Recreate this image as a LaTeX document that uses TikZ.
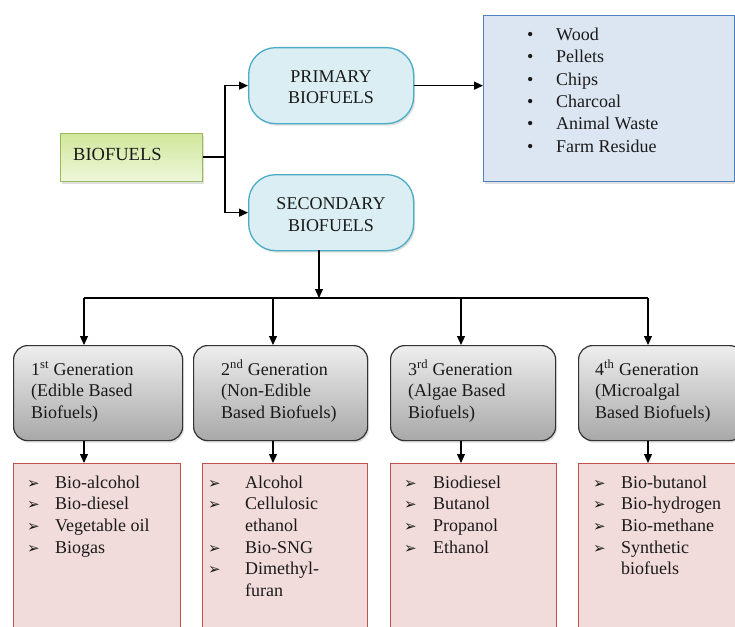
\documentclass[tikz,border=0pt]{standalone}
\usepackage{fontspec}
\setmainfont{Liberation Serif}
\newfontfamily\djv{DejaVu Sans}
\usetikzlibrary{arrows.meta,shadows}
\definecolor{ink}{HTML}{1A1A1A}
\definecolor{greenTop}{HTML}{D1E79C}
\definecolor{greenBot}{HTML}{EEF7DA}
\definecolor{greenLine}{HTML}{9BBB59}
\definecolor{cyanFill}{HTML}{DAEEF3}
\definecolor{cyanLine}{HTML}{4BACC6}
\definecolor{listFill}{HTML}{DCE6F2}
\definecolor{listLine}{HTML}{4F81BD}
\definecolor{grayTop}{HTML}{EEEEEE}
\definecolor{grayBot}{HTML}{A8A8A8}
\definecolor{grayLine}{HTML}{333333}
\definecolor{redFill}{HTML}{F2DCDB}
\definecolor{redLine}{HTML}{C0504D}
\newcommand{\arrbul}{{\djv\fontsize{15}{15}\selectfont ➢}}
\newcommand{\ali}[2]{\makebox[#1][l]{\arrbul}#2}
\newcommand{\acont}[2]{\hspace*{#1}#2}
\newcommand{\bli}[1]{\makebox[29pt][l]{\textbullet}#1}
\begin{document}
\begin{tikzpicture}[x=1pt,y=-1pt,
  txt/.style={font=\fontsize{18}{21.7}\selectfont, text=ink, inner sep=0pt, align=left, anchor=base west},
  ctxt/.style={font=\fontsize{18}{21.5}\selectfont, text=ink, inner sep=0pt, align=center, anchor=base},
  box/.style={anchor=north west, inner sep=0pt, minimum width=#1},
  shd/.style={drop shadow={opacity=0.25, shadow xshift=1.5pt, shadow yshift=-2pt}},
  greenbox/.style={box=142pt, minimum height=48pt, draw=greenLine, line width=1.2pt, top color=greenTop, bottom color=greenBot, shd},
  cyanbox/.style={box=165pt, minimum height=76pt, draw=cyanLine, line width=1.3pt, fill=cyanFill, rounded corners=27pt, shd},
  listbox/.style={box=251pt, minimum height=166pt, draw=listLine, line width=1.4pt, fill=listFill, shd},
  graybox/.style={box=#1, minimum height=95pt, draw=grayLine, line width=1.2pt, top color=grayTop, bottom color=grayBot, rounded corners=14pt, shd},
  redbox/.style={box=#1, minimum height=180pt, draw=redLine, line width=1.2pt, fill=redFill},
  conn/.style={draw=black, line width=1.2pt},
  arr/.style={conn, -{Triangle[length=9pt,width=8pt]}}
]
\useasboundingbox (0,0) rectangle (735,626);
\clip (0,0) rectangle (735,626);
\fill[white] (0,0) rectangle (735,626);

% top boxes
\node[greenbox] (bio) at (60,133) {};
\node[txt, font=\fontsize{18.5}{22}\selectfont] (biot) at (73,160) {BIOFUELS};
\node[cyanbox] (prim) at (248,47) {};
\node[ctxt] (primt) at (331,103.5) {PRIMARY\\BIOFUELS};
\node[cyanbox] (sec) at (248,174) {};
\node[ctxt] (sect) at (331,231) {SECONDARY\\BIOFUELS};
\node[listbox] (lst) at (483,15) {};
\node[txt, font=\fontsize{18}{22.3}\selectfont] (lstt) at (527,152) {\bli{Wood}\\\bli{Pellets}\\\bli{Chips}\\\bli{Charcoal}\\\bli{Animal Waste}\\\bli{Farm Residue}};

% generation boxes
\node[graybox=169pt] (g1) at (13,345) {};
\node[graybox=174pt] (g2) at (193,345) {};
\node[graybox=165pt] (g3) at (390,345) {};
\node[graybox=165pt] (g4) at (578,345) {};
\node[txt] (g1t) at (31,418.4) {1\textsuperscript{st} Generation\\(Edible Based\\Biofuels)};
\node[txt] (g2t) at (221,418.4) {2\textsuperscript{nd} Generation\\(Non-Edible\\Based Biofuels)};
\node[txt] (g3t) at (408,418.4) {3\textsuperscript{rd} Generation\\(Algae Based\\Biofuels)};
\node[txt] (g4t) at (595,418.4) {4\textsuperscript{th} Generation\\(Microalgal\\Based Biofuels)};

% red boxes
\node[redbox=167pt] (r1) at (13,463) {};
\node[redbox=165pt] (r2) at (202,463) {};
\node[redbox=166pt] (r3) at (390,463) {};
\node[redbox=165pt] (r4) at (578,463) {};
\node[txt] (r1t) at (27,553.1) {\ali{28pt}{Bio-alcohol}\\\ali{28pt}{Bio-diesel}\\\ali{28pt}{Vegetable oil}\\\ali{28pt}{Biogas}};
\node[txt] (r2t) at (208,596.5) {\ali{37pt}{Alcohol}\\\ali{37pt}{Cellulosic}\\\acont{37pt}{ethanol}\\\ali{37pt}{Bio-SNG}\\\ali{37pt}{Dimethyl-}\\\acont{37pt}{furan}};
\node[txt] (r3t) at (404,553.1) {\ali{29pt}{Biodiesel}\\\ali{29pt}{Butanol}\\\ali{29pt}{Propanol}\\\ali{29pt}{Ethanol}};
\node[txt] (r4t) at (593,574.8) {\ali{28pt}{Bio-butanol}\\\ali{28pt}{Bio-hydrogen}\\\ali{28pt}{Bio-methane}\\\ali{28pt}{Synthetic}\\\acont{28pt}{biofuels}};

% connectors
\coordinate (j) at (225,157);
\draw[conn] (bio.east |- j) -- (j);
\draw[arr] (j) |- (prim.west);
\draw[arr] (j) |- (sec.west);
\draw[arr] (prim.east) -- (prim.east -| lst.west);
\coordinate (s0) at (319,250);
\coordinate (bus) at (319,298);
\draw[arr] (s0) -- (bus);
\coordinate (b1) at (84,298);
\coordinate (b2) at (273,298);
\coordinate (b3) at (461,298);
\coordinate (b4) at (648,298);
\draw[conn] (b1) -- (b4);
\draw[arr] (b1) -- (b1 |- g1.north);
\draw[arr] (b2) -- (b2 |- g2.north);
\draw[arr] (b3) -- (b3 |- g3.north);
\draw[arr] (b4) -- (b4 |- g4.north);
\draw[arr] (b1 |- g1.south) -- (b1 |- r1.north);
\draw[arr] (b2 |- g2.south) -- (b2 |- r2.north);
\draw[arr] (b3 |- g3.south) -- (b3 |- r3.north);
\draw[arr] (b4 |- g4.south) -- (b4 |- r4.north);
\end{tikzpicture}
\end{document}
